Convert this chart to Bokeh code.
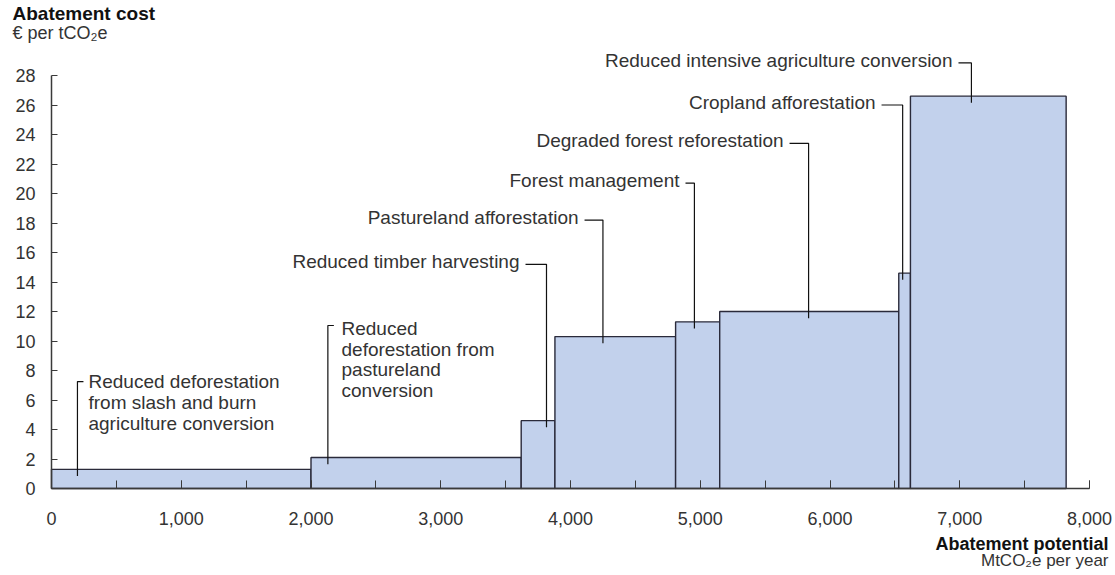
from bokeh.plotting import figure
from bokeh.models import Range1d, SingleIntervalTicker, FixedTicker, NumeralTickFormatter, Label, ColumnDataSource
from bokeh.embed import file_html
from bokeh.resources import INLINE
from bokeh.core.properties import value

# ---------------- data ----------------
measures = [
    "Reduced deforestation from slash and burn agriculture conversion",
    "Reduced deforestation from pastureland conversion",
    "Reduced timber harvesting",
    "Pastureland afforestation",
    "Forest management",
    "Degraded forest reforestation",
    "Cropland afforestation",
    "Reduced intensive agriculture conversion",
]
potential = [2000, 1620, 260, 930, 340, 1380, 90, 1200]   # MtCO2e per year (bar widths)
cost = [1.3, 2.1, 4.6, 10.3, 11.3, 12.0, 14.6, 26.6]       # EUR per tCO2e (bar heights)
y_ticks = list(range(0, 29, 2))
x_tick_interval = 1000

# ---------------- label layout ----------------
label_lines = [
    "Reduced deforestation\nfrom slash and burn\nagriculture conversion",
    "Reduced\ndeforestation from\npastureland\nconversion",
    "Reduced timber harvesting",
    "Pastureland afforestation",
    "Forest management",
    "Degraded forest reforestation",
    "Cropland afforestation",
    "Reduced intensive agriculture conversion",
]
label_side = ["right", "right", "left", "left", "left", "left", "left", "left"]
leader_x = [200, 2130, 3815, 4250, 4955, 5835, 6560, 7090]
leader_top = [7.25, 11.05, 15.2, 18.2, 20.7, 23.4, 26.0, 28.85]
text_x = [285, 2235, 3607, 4062, 4840, 5642, 6351, 6944]
text_y = [5.83, 8.75, 15.4, 18.4, 20.9, 23.6, 26.2, 29.05]

FONT = "Liberation Sans"
W, H = 1112, 573
X0_PX, Y0_PX = 51, 488          # canvas position of the data origin
XPX = 1038 / 8000.0             # px per data unit
YPX = 413 / 28.0
x_start, x_end = -X0_PX / XPX, (W - X0_PX) / XPX
y_start, y_end = -(H - Y0_PX) / YPX, Y0_PX / YPX

p = figure(width=W, height=H, x_range=Range1d(x_start, x_end), y_range=Range1d(y_start, y_end),
           output_backend="svg", toolbar_location=None, min_border=0)
p.grid.visible = False
p.outline_line_color = None
p.background_fill_color = "white"

# bars
lefts, rights = [], []
acc = 0
for w in potential:
    lefts.append(acc)
    acc += w
    rights.append(acc)
src = ColumnDataSource(dict(left=lefts, right=rights, top=cost, bottom=[0] * len(cost), name=measures))
p.quad(left="left", right="right", top="top", bottom="bottom", source=src,
       fill_color="#C2D1EC", line_color="#2A2A3A", line_width=1.4)

# leader lines
xs, ys = [], []
for i in range(len(measures)):
    lx = leader_x[i]
    bottom = cost[i] - 0.45
    if label_side[i] == "right":
        xs.append([lx + 6 / XPX, lx, lx])
    else:
        xs.append([text_x[i] + 6 / XPX, lx, lx])
    ys.append([leader_top[i], leader_top[i], bottom])
p.multi_line(xs, ys, line_color="#111111", line_width=1.2)

# labels
for side, align in (("right", "left"), ("left", "right")):
    idx = [i for i in range(len(measures)) if label_side[i] == side]
    s = ColumnDataSource(dict(x=[text_x[i] for i in idx], y=[text_y[i] for i in idx],
                              t=[label_lines[i] for i in idx]))
    p.text(x="x", y="y", text="t", source=s, text_align=align, text_baseline="middle",
           text_font=value(FONT), text_font_size="19px", text_color="#333333",
           text_line_height=0.98)

# axes
xa = p.xaxis[0]
xa.ticker = SingleIntervalTicker(interval=x_tick_interval, num_minor_ticks=2)
xa.formatter = NumeralTickFormatter(format="0,0")
xa.bounds = (0, 8000)
xa.fixed_location = 0
ya = p.yaxis[0]
ya.ticker = FixedTicker(ticks=y_ticks)
ya.bounds = (0, 28)
ya.fixed_location = 0
for ax in (xa, ya):
    ax.axis_line_color = "#3A3A3A"
    ax.axis_line_width = 1.5
    ax.major_tick_line_color = "#3A3A3A"
    ax.minor_tick_line_color = "#3A3A3A"
    ax.major_tick_out = 0
    ax.minor_tick_out = 0
    ax.major_label_text_font = FONT
    ax.major_label_text_font_size = "18px"
    ax.major_label_text_color = "#333333"
xa.major_tick_in = 8
xa.minor_tick_in = 8
xa.major_label_standoff = 23
ya.major_tick_in = 6
ya.minor_tick_in = 0
ya.major_label_standoff = 16

# axis titles
def py(page_y):
    return (Y0_PX - page_y) / YPX

def px(page_x):
    return (page_x - X0_PX) / XPX

p.add_layout(Label(x=px(12), y=py(13), text="Abatement cost", text_font=FONT, text_font_size="19px",
                   text_font_style="bold", text_color="#111111", text_baseline="middle", text_align="left"))
p.add_layout(Label(x=px(12), y=py(32), text="€ per tCO₂e", text_font=FONT, text_font_size="18px",
                   text_color="#333333", text_baseline="middle", text_align="left"))
p.add_layout(Label(x=px(1108), y=py(543), text="Abatement potential", text_font=FONT, text_font_size="18px",
                   text_font_style="bold", text_color="#111111", text_baseline="middle", text_align="right"))
p.add_layout(Label(x=px(1108), y=py(560), text="MtCO₂e per year", text_font=FONT, text_font_size="17px",
                   text_color="#333333", text_baseline="middle", text_align="right"))

open("out.html", "w").write(file_html(p, INLINE))
